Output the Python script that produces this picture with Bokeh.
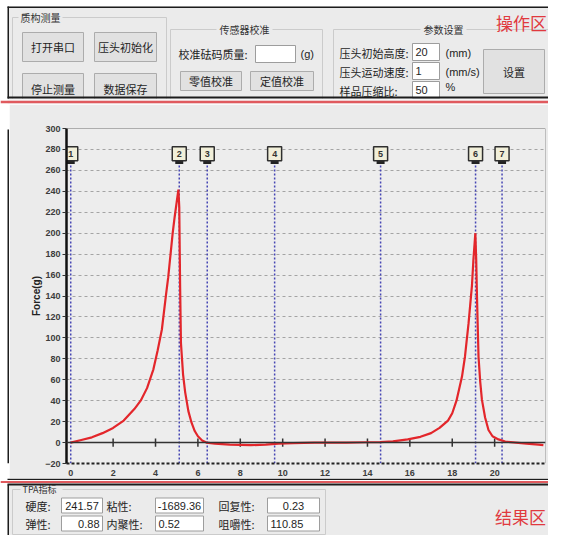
from bokeh.plotting import figure
from bokeh.layouts import column, row
from bokeh.models import Range1d, Label, Span, FixedTicker
from bokeh.core.properties import value
from bokeh.embed import file_html
from bokeh.resources import INLINE

# ---------------- data ----------------
time_s = [0.0, 0.5, 1.0, 1.5, 2.0, 2.5, 3.0, 3.3, 3.6, 3.9, 4.1, 4.3, 4.5, 4.6, 4.7, 4.81, 4.9, 5.0, 5.08,
          5.12, 5.16, 5.2, 5.3, 5.4, 5.55, 5.7, 5.85, 6.0, 6.2, 6.4, 6.8, 7.5, 8.5, 9.2, 9.8, 10.5, 11.5, 13.0,
          14.0, 14.6, 15.2, 15.9, 16.5, 17.0, 17.4, 17.8, 18.0, 18.2, 18.46, 18.6, 18.77, 18.85, 18.93, 19.0, 19.09,
          19.13, 19.17, 19.24, 19.32, 19.4, 19.55, 19.71, 19.9, 20.18, 20.5, 21.0, 21.5, 22.07, 22.3]
force_g = [0, 2.5, 5, 9, 14, 21, 32, 40, 52, 70, 88, 108, 142, 158, 178, 200, 215, 230, 241.6,
           225, 150, 95, 65, 48, 30, 19, 11, 6, 2, 0, -1, -2, -2.5, -2, -1, -0.5, 0, 0,
           0.3, 0.5, 1.2, 3, 5.5, 9, 14, 21, 28, 40, 63, 82, 114, 132, 150, 175, 200,
           175, 137, 82, 58, 41, 24, 12, 6, 3, 1, 0, -1, -2, -2.5]

marker_ids = ["1", "2", "3", "4", "5", "6", "7"]
marker_t = [0.0, 5.12, 6.44, 9.62, 14.62, 19.1, 20.35]

x_ticks = [0, 2, 4, 6, 8, 10, 12, 14, 16, 18, 20]
y_ticks = [-20, 0, 20, 40, 60, 80, 100, 120, 140, 160, 180, 200, 220, 240, 260, 280, 300]
zero_line_ticks = [2, 4, 6, 8, 10, 12, 14, 16, 18, 20]

param_names = ["压头初始高度:", "压头运动速度:", "样品压缩比:"]
param_values = ["20", "1", "50"]
param_units = ["(mm)", "(mm/s)", "%"]

tpa_names = ["硬度:", "粘性:", "回复性:", "弹性:", "内聚性:", "咀嚼性:"]
tpa_values = ["241.57", "-1689.36", "0.23", "0.88", "0.52", "110.85"]

# ---------------- styles ----------------
CJK = "Noto Sans CJK SC"
NUM = "Liberation Sans"
PANEL = "#ebebeb"
RED = "#e0393e"
RED_LINE = "#e05a5e"
BTN_FILL = "#e1e1e1"
BTN_LINE = "#acacac"
GROUP = "#cbcbcb"
DARK = "#1c1c1c"
W = 548


def ui_fig(w, h):
    p = figure(width=w, height=h, x_range=Range1d(0, w), y_range=Range1d(h, 0),
               min_border=0, toolbar_location=None, output_backend="svg",
               x_axis_location=None, y_axis_location=None,
               background_fill_color="white", border_fill_color="white",
               outline_line_color=None)
    p.grid.visible = False
    return p


def box(p, l, r, t, b, fill, line, lw=1.0):
    p.quad(left=[l], right=[r], top=[t], bottom=[b], fill_color=fill,
           line_color=line, line_width=lw)


def txt(p, x, y, s, size="11px", align="left", color="#1e1e1e", font=CJK, style="normal"):
    p.text(x=[x], y=[y], text=[s], text_align=align, text_baseline="middle",
           text_font=value(font), text_font_size=size, text_color=color,
           text_font_style=style)


def hl(p, x0, x1, y, color, w):
    p.segment(x0=[x0], y0=[y], x1=[x1], y1=[y], line_color=color, line_width=w)


def vl(p, x, y0, y1, color, w):
    p.segment(x0=[x], y0=[y0], x1=[x], y1=[y1], line_color=color, line_width=w)


def button(p, l, r, t, b, s, ty=None):
    box(p, l, r, t, b, BTN_FILL, BTN_LINE)
    txt(p, (l + r) / 2, (t + b) / 2 if ty is None else ty, s, align="center")


def entry(p, l, r, t, b, s, align="left", font=NUM):
    box(p, l, r, t, b, "white", "#9d9d9d")
    if align == "left":
        txt(p, l + 3, (t + b) / 2, s, align="left", font=font)
    elif align == "right":
        txt(p, r - 3, (t + b) / 2, s, align="right", font=font)
    else:
        txt(p, (l + r) / 2, (t + b) / 2, s, align="center", font=font)


def group(p, l, r, t, b, title, title_x, align, tw, size="10px"):
    box(p, l, r, t, b, None, GROUP)
    if align == "center":
        box(p, title_x - tw / 2, title_x + tw / 2, t - 5, t + 5, PANEL, None)
    else:
        box(p, title_x - 2, title_x + tw, t - 5, t + 5, PANEL, None)
    txt(p, title_x, t, title, size=size, align=align, color="#333333")


# ---------------- top: operation panel ----------------
top = ui_fig(W, 104)
box(top, 7, W, 6, 98, PANEL, None)

group(top, 12, 166, 17, 104, "质构测量", 20, "left", 42)
button(top, 22, 83, 32, 61, "打开串口")
button(top, 94, 156, 32, 61, "压头初始化")
button(top, 22, 83, 73, 104, "停止测量", ty=88)
button(top, 94, 156, 73, 104, "数据保存", ty=88)

group(top, 170, 322, 29, 104, "传感器校准", 244, "center", 56)
txt(top, 178, 53, "校准砝码质量:")
entry(top, 255, 295, 45, 62, "")
txt(top, 300, 53, "(g)", font=NUM)
button(top, 180, 241, 71, 90, "零值校准")
button(top, 250, 313, 71, 90, "定值校准")

group(top, 333, 555, 29, 104, "参数设置", 443, "center", 46)
for i, (nm, vv, un) in enumerate(zip(param_names, param_values, param_units)):
    yc = 52 + 19 * i
    txt(top, 339, yc, nm)
    entry(top, 412, 439, yc - 9, yc + 8, vv)
    txt(top, 445, yc - (4 if un == "%" else 0), un, font=NUM)
button(top, 483, 544, 49, 93, "设置")

txt(top, 521, 22, "操作区", size="17px", align="center", color=RED)

box(top, 0, W, 98, 104, "#f6f6f6", None)
box(top, 0, 7, 0, 104, "white", None)
hl(top, 7, W, 6.75, DARK, 1.5)
vl(top, 7.75, 6, 98, DARK, 1.5)
hl(top, 7, W, 97, DARK, 2)
hl(top, 0, W, 101.5, RED_LINE, 2.5)

# ---------------- middle: chart ----------------
X0, X1, Y0, Y1 = -0.2, 22.4, -20, 300
p = figure(width=539, height=374, x_range=Range1d(X0, X1), y_range=Range1d(Y0, Y1),
           min_border_left=57, min_border_right=3, min_border_top=24, min_border_bottom=13,
           toolbar_location=None, output_backend="svg",
           background_fill_color="#ededed", border_fill_color=PANEL,
           outline_line_color=None)

p.xaxis.ticker = FixedTicker(ticks=x_ticks)
p.yaxis.ticker = FixedTicker(ticks=y_ticks)
p.xgrid.visible = False
p.ygrid.grid_line_color = "#a4a4a4"
p.ygrid.grid_line_dash = "3 3"
p.ygrid.grid_line_width = 1.2

for ax in (p.xaxis, p.yaxis):
    ax.major_label_text_font = NUM
    ax.major_label_text_font_size = "9px"
    ax.major_label_text_font_style = "bold"
    ax.major_label_text_color = "#3c3c3c"
    ax.minor_tick_line_color = None

p.xaxis.axis_line_color = "#222222"
p.xaxis.axis_line_width = 2
p.xaxis.axis_line_dash = "3 2"
p.xaxis.major_tick_line_color = None
p.xaxis.major_label_standoff = 0

p.yaxis.axis_line_color = "#111111"
p.yaxis.axis_line_width = 2.5
p.yaxis.major_tick_line_color = "#333333"
p.yaxis.major_tick_out = 4
p.yaxis.major_tick_in = 0
p.yaxis.major_label_standoff = 2
p.yaxis.axis_label = "Force(g)"
p.yaxis.axis_label_text_font = NUM
p.yaxis.axis_label_text_font_size = "10px"
p.yaxis.axis_label_text_font_style = "bold"
p.yaxis.axis_label_text_color = "#222222"
p.yaxis.axis_label_standoff = 0

p.add_layout(Span(location=Y1, dimension="width", line_color="#6a6a6a", line_width=1))
p.add_layout(Span(location=X1, dimension="height", line_color="#8a8a8a", line_width=1))

# event markers
p.segment(x0=marker_t, y0=[Y0] * len(marker_t), x1=marker_t, y1=[268] * len(marker_t),
          line_color="#4646b4", line_dash="2 2", line_width=1.5)

# zero line with ticks
p.add_layout(Span(location=0, dimension="width", line_color="#333333", line_width=1.5))
p.segment(x0=zero_line_ticks, y0=[-4] * len(zero_line_ticks), x1=zero_line_ticks,
          y1=[4] * len(zero_line_ticks), line_color="#333333", line_width=1.5)

# force curve
p.line(time_s, force_g, line_color="#e3262b", line_width=2.2)

# marker flags
p.rect(x=marker_t, y=[267.5] * len(marker_t), width=8, height=3, width_units="screen",
       height_units="screen", fill_color="#222222", line_color=None)
p.scatter(x=marker_t, y=[276] * len(marker_t), marker="square", size=14,
          fill_color="#f1efd9", line_color="#2f2f2f", line_width=1.5)
p.text(x=marker_t, y=[276] * len(marker_t), text=marker_ids, text_align="center",
       text_baseline="middle", text_font=value(NUM), text_font_size="9px",
       text_font_style="bold", text_color="#333333")

p.add_layout(Label(x=X1, y=Y1, x_offset=2, y_offset=11, text="数据可视化显示区",
                   text_align="right", text_baseline="middle", text_color=RED,
                   text_font=CJK, text_font_size="17px"))

strip = figure(width=9, height=374, x_range=Range1d(0, 9), y_range=Range1d(374, 0),
               min_border=0, toolbar_location=None, output_backend="svg",
               x_axis_location=None, y_axis_location=None,
               background_fill_color="white", border_fill_color="white", outline_line_color=None)
strip.grid.visible = False
strip.quad(left=[7], right=[9], top=[1], bottom=[374], fill_color=DARK, line_color=None)

# ---------------- bottom: result panel ----------------
bot = ui_fig(W, 57)
box(bot, 7, W, 6, 57, PANEL, None)
group(bot, 12, 325, 11, 56, "TPA指标", 22, "left", 40, size="9px")

label_x = [25, 106, 218]
box_lr = [(61, 102), (155, 203), (267, 319)]
value_align = ["center", "center", "center", "right", "left", "left"]
for i, (nm, vv) in enumerate(zip(tpa_names, tpa_values)):
    c = i % 3
    yc = 27 if i < 3 else 45
    txt(bot, label_x[c], yc, nm)
    l, r = box_lr[c]
    entry(bot, l, r, yc - 7.5, yc + 7.5, vv, align=value_align[i])

txt(bot, 520, 38, "结果区", size="17px", align="center", color=RED)

box(bot, 0, 7, 0, 57, "white", None)
hl(bot, 7, W, 0.75, DARK, 1.5)
hl(bot, 0, W, 3.5, RED_LINE, 2)
hl(bot, 7, W, 6, DARK, 2)
vl(bot, 7.75, 6, 57, DARK, 1.5)

layout = column(top, row(strip, p), bot)

with open("out.html", "w") as f:
    f.write(file_html(layout, INLINE))
